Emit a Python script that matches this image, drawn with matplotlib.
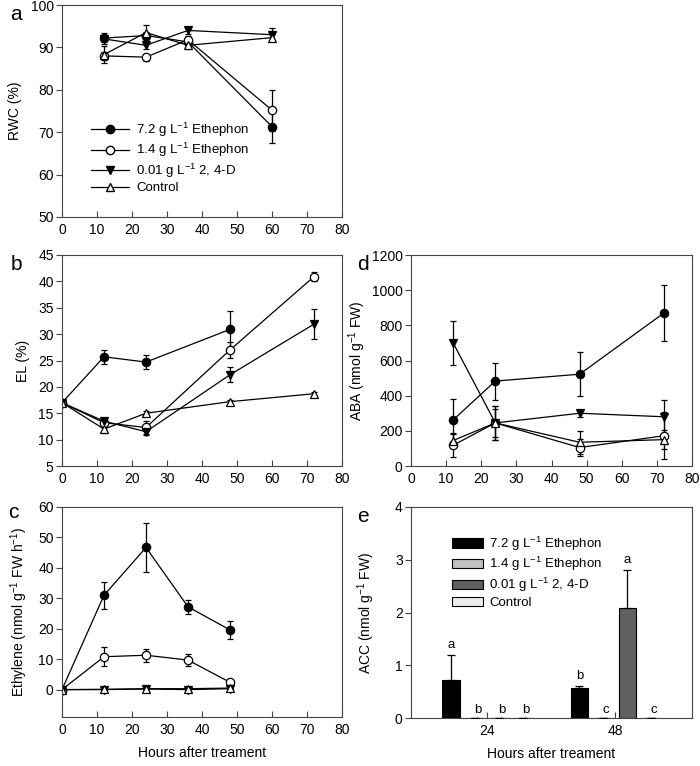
import numpy as np
import matplotlib.pyplot as plt

plt.rcParams['font.family'] = ['Liberation Sans', 'DejaVu Sans']
plt.rcParams['mathtext.default'] = 'regular'
plt.rcParams['axes.edgecolor'] = '#444444'
plt.rcParams['xtick.color'] = '#444444'
plt.rcParams['ytick.color'] = '#444444'
plt.rcParams['xtick.labelcolor'] = 'black'
plt.rcParams['ytick.labelcolor'] = 'black'

# treatment names
names = ['7.2 g L$^{-1}$ Ethephon', '1.4 g L$^{-1}$ Ethephon',
         '0.01 g L$^{-1}$ 2, 4-D', 'Control']

# a: relative water content
rwc_x = [12, 24, 36, 60]
rwc_eth72 = [92.2, 92.8, 91.3, 71.3]
rwc_eth72_err = [1.3, 0.8, 0.8, 3.8]
rwc_eth14 = [88.0, 87.7, 91.8, 75.2]
rwc_eth14_err = [1.0, 0.8, 1.0, 4.8]
rwc_24d = [92.0, 90.5, 94.0, 93.0]
rwc_24d_err = [0.8, 0.8, 0.8, 1.5]
rwc_ctrl = [88.3, 93.5, 90.5, 92.3]
rwc_ctrl_err = [2.0, 1.7, 0.8, 0.8]

# b: electrolyte leakage
el_x = [0, 12, 24, 48, 72]
el_eth72 = [17.0, 25.7, 24.7, 30.9]
el_eth72_err = [0.3, 1.3, 1.4, 3.5]
el_eth14 = [17.0, 13.2, 12.3, 27.0, 40.9]
el_eth14_err = [0.3, 0.8, 1.2, 1.6, 0.8]
el_24d = [17.0, 13.5, 11.5, 22.3, 31.9]
el_24d_err = [0.3, 0.6, 0.6, 1.4, 2.8]
el_ctrl = [17.0, 12.0, 15.0, 17.2, 18.7]
el_ctrl_err = [0.3, 0.7, 0.5, 0.4, 0.4]

# c: ethylene
eth_x = [0, 12, 24, 36, 48]
eth_72 = [0, 31.0, 46.7, 27.2, 19.6]
eth_72_err = [0, 4.5, 8.0, 2.4, 3.0]
eth_14 = [0, 10.8, 11.3, 9.7, 2.4]
eth_14_err = [0, 3.2, 2.2, 2.0, 0.5]
eth_24d = [0, 0.0, 0.2, 0.0, 0.3]
eth_24d_err = [0, 0.2, 0.2, 0.2, 0.2]
eth_ctrl = [0, 0.1, 0.3, 0.3, 0.5]
eth_ctrl_err = [0, 0.1, 0.1, 0.1, 0.1]

# d: ABA
aba_x = [12, 24, 48, 72]
aba_72 = [262, 483, 522, 870]
aba_72_err = [120, 105, 125, 160]
aba_14 = [118, 245, 105, 172]
aba_14_err = [65, 95, 50, 135]
aba_24d = [700, 245, 300, 280]
aba_24d_err = [125, 95, 20, 95]
aba_ctrl = [145, 245, 135, 150]
aba_ctrl_err = [40, 80, 65, 55]

# e: ACC
acc_groups = ['24', '48']
acc_72 = [0.72, 0.56]
acc_72_err = [0.47, 0.04]
acc_14 = [0, 0]
acc_24d = [0, 2.08]
acc_24d_err = [0, 0.72]
acc_ctrl = [0, 0]
acc_letters = [['a', 'b', 'b', 'b'], ['b', 'c', 'a', 'c']]

styles = [dict(marker='o', mfc='black'), dict(marker='o', mfc='white'),
          dict(marker='v', mfc='black'), dict(marker='^', mfc='white')]

TICK = 10
LAB = 10
LEG = 9.5

W, H = 700, 766
fig = plt.figure(figsize=(7, 7.66), dpi=100)


def add_ax(l, t, r, b):
    return fig.add_axes([l / W, 1 - b / H, (r - l) / W, (b - t) / H])


def panel_letter(x, y, s):
    fig.text(x / W, 1 - y / H, s, fontsize=15, ha='center', va='center')


def style_line_ax(ax, ylim, yticks):
    ax.set_xlim(0, 80)
    ax.set_xticks(range(0, 81, 10))
    ax.set_ylim(*ylim)
    ax.set_yticks(yticks)
    ax.tick_params(axis='x', direction='in', length=4, labelsize=TICK, pad=4)
    ax.tick_params(axis='y', direction='out', length=4, labelsize=TICK, pad=2)


def draw(ax, series):
    for (x, y, e), st in zip(series, styles):
        ax.errorbar(x[:len(y)], y, yerr=e, color='black', lw=0.9,
                    elinewidth=0.9, capsize=2.5, capthick=0.9, ms=6,
                    mec='black', mew=0.9, **st)


# panel a
ax = add_ax(62, 5, 342, 217)
draw(ax, [(rwc_x, rwc_eth72, rwc_eth72_err),
          (rwc_x, rwc_eth14, rwc_eth14_err),
          (rwc_x, rwc_24d, rwc_24d_err),
          (rwc_x, rwc_ctrl, rwc_ctrl_err)])
style_line_ax(ax, (50, 100), range(50, 101, 10))
ax.set_ylabel('RWC (%)', fontsize=LAB, labelpad=6)
handles = [plt.Line2D([], [], color='black', lw=0.9, ms=6, mec='black', **st)
           for st in styles]
ax.legend(handles, names, loc='upper left', bbox_to_anchor=(0.085, 0.48),
          frameon=False, fontsize=LEG, handlelength=2.9, handletextpad=0.5,
          labelspacing=0.18, borderaxespad=0)
panel_letter(16, 15, 'a')

# panel b
ax = add_ax(62, 255, 342, 466)
draw(ax, [(el_x, el_eth72, el_eth72_err),
          (el_x, el_eth14, el_eth14_err),
          (el_x, el_24d, el_24d_err),
          (el_x, el_ctrl, el_ctrl_err)])
style_line_ax(ax, (5, 45), range(5, 46, 5))
ax.set_ylabel('EL (%)', fontsize=LAB, labelpad=6)
panel_letter(16, 265, 'b')

# panel c
ax = add_ax(62, 507, 342, 717)
draw(ax, [(eth_x, eth_72, eth_72_err),
          (eth_x, eth_14, eth_14_err),
          (eth_x, eth_24d, eth_24d_err),
          (eth_x, eth_ctrl, eth_ctrl_err)])
style_line_ax(ax, (-9, 60), range(0, 61, 10))
ax.set_ylabel('Ethylene (nmol g$^{-1}$ FW h$^{-1}$)', fontsize=LAB,
              labelpad=6)
ax.set_xlabel('Hours after treament', fontsize=LAB, labelpad=7)
panel_letter(13, 513, 'c')

# panel d
ax = add_ax(411, 255, 692, 466)
draw(ax, [(aba_x, aba_72, aba_72_err),
          (aba_x, aba_14, aba_14_err),
          (aba_x, aba_24d, aba_24d_err),
          (aba_x, aba_ctrl, aba_ctrl_err)])
style_line_ax(ax, (0, 1200), range(0, 1201, 200))
ax.set_ylabel('ABA (nmol g$^{-1}$ FW)', fontsize=LAB, labelpad=3)
panel_letter(363, 265, 'd')

# panel e
ax = add_ax(411, 507, 692, 718)
bar_colors = ['black', '#c0c0c0', '#606060', '#ececec']
bar_vals = [acc_72, acc_14, acc_24d, acc_ctrl]
bar_errs = [acc_72_err, [0, 0], acc_24d_err, [0, 0]]
xg = np.arange(len(acc_groups))
step = 0.1875
for i, (v, e, c) in enumerate(zip(bar_vals, bar_errs, bar_colors)):
    pos = xg + (i - 1.5) * step
    ax.bar(pos, v, width=0.137, color=c, edgecolor='black', lw=0.8,
           label=names[i], zorder=2)
    ax.errorbar(pos, v, yerr=[np.zeros(len(v)), e], fmt='none',
                ecolor='black', elinewidth=0.9, capsize=3, capthick=0.9,
                zorder=3)
    for j in range(len(v)):
        top = v[j] + e[j]
        ytxt = top + 0.08 if top > 0 else 0.04
        ax.text(pos[j] + (0.02 if top == 0 else 0), ytxt, acc_letters[j][i],
                ha='center', va='bottom', fontsize=LEG)
ax.set_xlim(-0.594, 1.598)
ax.set_xticks(xg)
ax.set_xticklabels(acc_groups)
ax.set_ylim(0, 4)
ax.set_yticks(range(0, 5))
ax.tick_params(axis='x', direction='in', length=4, labelsize=TICK, pad=4)
ax.tick_params(axis='y', direction='out', length=4, labelsize=TICK, pad=2)
ax.set_ylabel('ACC (nmol g$^{-1}$ FW)', fontsize=LAB, labelpad=13)
ax.set_xlabel('Hours after treament', fontsize=LAB, labelpad=7)
ax.legend(loc='upper left', bbox_to_anchor=(0.128, 0.895), frameon=False,
          fontsize=LEG, handlelength=2.3, handleheight=0.7,
          handletextpad=0.5, labelspacing=0.2, borderaxespad=0)
panel_letter(363, 516, 'e')

fig.savefig('out.png', dpi=100)
